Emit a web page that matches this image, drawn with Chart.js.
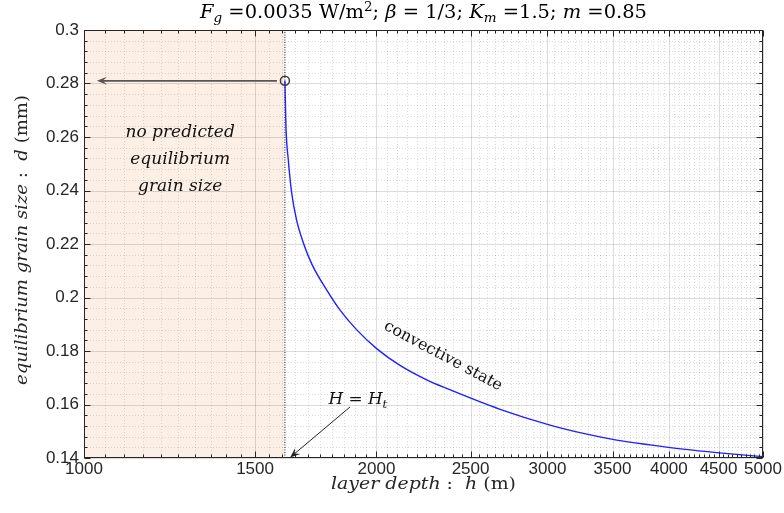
<!DOCTYPE html>
<html><head><meta charset="utf-8">
<script src="https://cdn.jsdelivr.net/npm/chart.js@4.4.1/dist/chart.umd.min.js"></script>
<style>html,body{margin:0;padding:0;background:#fff;}#wrap{width:784px;height:513px;position:relative}</style>
</head><body><div id="wrap"><canvas id="c" width="784" height="513"></canvas></div>
<script>
// ---- data ----
const depthH = [1610,1614,1623,1636,1655,1682,1717,1778,1835,1909,2001,2115,2253,2362,2681,3018,3266,3535,3825,4139,4480,5000];
const grainD = [0.281,0.2637,0.2514,0.2391,0.229,0.2204,0.2123,0.2028,0.1953,0.1879,0.1809,0.1746,0.1692,0.166,0.1582,0.1523,0.1492,0.1467,0.1449,0.1433,0.142,0.1405];
const xTickLabels = [1000,1500,2000,2500,3000,3500,4000,4500,5000];
const yTickLabels = [0.14,0.16,0.18,0.2,0.22,0.24,0.26,0.28,0.3];
const transitionH = 1610;
const transitionD = 0.281;
const leftArrow = {from:{x:1580,y:0.281}, to:{x:1031,y:0.281}};
const htArrow = {from:{x:1879,y:0.1591}, to:{x:1630,y:0.1402}};
const noPredLines = ["no predicted","equilibrium","grain size"];
const noPredAnchor = {x:1256, y:0.2622};
const convAnchor = {x:2342, y:0.1781};
const htAnchor = {x:1914, y:0.1602};

const xMinor = []; for (let v=1000; v<=5000; v+=50) if (v%500) xMinor.push(v);
const yMinor = []; for (let k=0; k<=40; k++){ const v=+(0.14+k*0.004).toFixed(3); if (k%5) yMinor.push(v); }

const SERIF = '"DejaVu Serif", "Liberation Serif", serif';
function measure(ctx, parts){ let w=0; parts.forEach(p=>{ctx.font=p.f; w+=ctx.measureText(p.t).width;}); return w; }
function runsFit(ctx, parts, cx, y, sx){
  const w=measure(ctx,parts);
  ctx.save(); ctx.translate(cx,y); ctx.scale(sx,1);
  let px=-w/2;
  parts.forEach(p=>{ctx.font=p.f; ctx.fillText(p.t, px, (p.dy||0)); px+=ctx.measureText(p.t).width;});
  ctx.restore();
}
function arrow(ctx, x1,y1,x2,y2, color, lw, hl){
  const a=Math.atan2(y2-y1,x2-x1);
  ctx.save(); ctx.strokeStyle=color; ctx.fillStyle=color; ctx.lineWidth=lw; ctx.setLineDash([]);
  ctx.beginPath(); ctx.moveTo(x1,y1); ctx.lineTo(x2-Math.cos(a)*hl*0.6,y2-Math.sin(a)*hl*0.6); ctx.stroke();
  ctx.translate(x2,y2); ctx.rotate(a);
  ctx.beginPath(); ctx.moveTo(0,0); ctx.lineTo(-hl,-hl*0.4); ctx.lineTo(-hl*0.6,0); ctx.lineTo(-hl,hl*0.4); ctx.closePath(); ctx.fill();
  ctx.restore();
}

const deco = {
  id:'deco',
  beforeDatasetsDraw(chart){
    const {ctx, chartArea:a, scales:{x,y}} = chart;
    ctx.save();
    ctx.fillStyle='rgb(252,240,230)';
    const xs=x.getPixelForValue(1000), xe=x.getPixelForValue(transitionH);
    ctx.fillRect(xs,a.top,xe-xs,a.bottom-a.top);
    ctx.lineWidth=1;
    ctx.strokeStyle='rgba(38,38,38,0.16)'; ctx.setLineDash([1,2]);
    xMinor.forEach(v=>{const p=Math.round(x.getPixelForValue(v))+0.5; ctx.beginPath(); ctx.moveTo(p,a.top); ctx.lineTo(p,a.bottom); ctx.stroke();});
    yMinor.forEach(v=>{const p=Math.round(y.getPixelForValue(v))+0.5; ctx.beginPath(); ctx.moveTo(a.left,p); ctx.lineTo(a.right,p); ctx.stroke();});
    ctx.setLineDash([]); ctx.strokeStyle='rgba(38,38,38,0.16)';
    xTickLabels.forEach(v=>{const p=Math.round(x.getPixelForValue(v))+0.5; ctx.beginPath(); ctx.moveTo(p,a.top); ctx.lineTo(p,a.bottom); ctx.stroke();});
    yTickLabels.forEach(v=>{const p=Math.round(y.getPixelForValue(v))+0.5; ctx.beginPath(); ctx.moveTo(a.left,p); ctx.lineTo(a.right,p); ctx.stroke();});
    ctx.restore();
  },
  afterDatasetsDraw(chart){
    const {ctx, chartArea:a, scales:{x,y}} = chart;
    ctx.save();
    ctx.strokeStyle='#262626'; ctx.lineWidth=1; ctx.setLineDash([]);
    const L=Math.round(a.left)+0.5, R=Math.round(a.right)-0.5, T=Math.round(a.top)+0.5, B=Math.round(a.bottom)-0.5;
    ctx.strokeRect(L,T,R-L,B-T);
    ctx.beginPath();
    const tx=(v,len)=>{const p=Math.round(x.getPixelForValue(v))+0.5; ctx.moveTo(p,B); ctx.lineTo(p,B-len); ctx.moveTo(p,T); ctx.lineTo(p,T+len);};
    const ty=(v,len)=>{const p=Math.round(y.getPixelForValue(v))+0.5; ctx.moveTo(L,p); ctx.lineTo(L+len,p); ctx.moveTo(R,p); ctx.lineTo(R-len,p);};
    xMinor.forEach(v=>tx(v,3)); xTickLabels.forEach(v=>tx(v,6));
    yMinor.forEach(v=>ty(v,3)); yTickLabels.forEach(v=>ty(v,6));
    ctx.stroke();
    arrow(ctx, x.getPixelForValue(leftArrow.from.x), y.getPixelForValue(leftArrow.from.y), x.getPixelForValue(leftArrow.to.x), y.getPixelForValue(leftArrow.to.y), 'rgb(90,85,80)', 1.6, 10);
    arrow(ctx, x.getPixelForValue(htArrow.from.x), y.getPixelForValue(htArrow.from.y), x.getPixelForValue(htArrow.to.x), y.getPixelForValue(htArrow.to.y), '#222', 1, 10);
    ctx.fillStyle='#111'; ctx.textBaseline='alphabetic'; ctx.textAlign='left';
    const nx=x.getPixelForValue(noPredAnchor.x), ny=y.getPixelForValue(noPredAnchor.y);
    const NI='italic 17px '+SERIF;
    noPredLines.forEach((t,i)=>runsFit(ctx,[{t,f:NI}], nx, ny+6+i*27, 1.0));
    runsFit(ctx,[{t:'H',f:'italic 16px '+SERIF},{t:' = ',f:'16px '+SERIF},{t:'H',f:'italic 16px '+SERIF},{t:'t',f:'italic 11px '+SERIF,dy:4}], x.getPixelForValue(htAnchor.x), y.getPixelForValue(htAnchor.y), 1.05);
    ctx.save();
    ctx.translate(x.getPixelForValue(convAnchor.x), y.getPixelForValue(convAnchor.y));
    ctx.rotate(28*Math.PI/180);
    ctx.textAlign='center'; ctx.textBaseline='middle'; ctx.font='16px '+SERIF;
    ctx.fillText('convective state',0,0);
    ctx.restore();
    ctx.textAlign='left'; ctx.textBaseline='alphabetic';
    // title
    ctx.fillStyle='#000';
    const cx=(a.left+a.right)/2;
    const N='18px '+SERIF, I='italic 18px '+SERIF, S='italic 12.5px '+SERIF, SN='12.5px '+SERIF;
    const titleParts=[{t:'F',f:I},{t:'g',f:S,dy:4},{t:' =0.0035 W/m',f:N},{t:'2',f:SN,dy:-7},{t:'; ',f:N},{t:'β',f:I},{t:' = 1/3; ',f:N},{t:'K',f:I},{t:'m',f:S,dy:4},{t:' =1.5; ',f:N},{t:'m',f:I},{t:' =0.85',f:N}];
    runsFit(ctx,titleParts,cx,18,447/measure(ctx,titleParts));
    // axis titles
    ctx.fillStyle='#262626';
    const N2='17px '+SERIF, I2='italic 17px '+SERIF;
    const xParts=[{t:'layer depth',f:I2},{t:' :  ',f:N2},{t:'h',f:I2},{t:' (m)',f:N2}];
    runsFit(ctx,xParts,cx,489,185/measure(ctx,xParts));
    const yParts=[{t:'equilibrium grain size',f:I2},{t:' :  ',f:N2},{t:'d',f:I2},{t:' (mm)',f:N2}];
    ctx.save(); ctx.translate(27,(a.top+a.bottom)/2-4); ctx.rotate(-Math.PI/2);
    runsFit(ctx,yParts,0,0,290/measure(ctx,yParts));
    ctx.restore();
    ctx.restore();
  }
};

new Chart(document.getElementById('c'), {
  type:'line',
  data:{datasets:[
    {data:[{x:transitionH,y:transitionD}], showLine:false, pointRadius:4.5, pointBorderWidth:1.5, pointBorderColor:'#3a3a3a', pointBackgroundColor:'rgba(0,0,0,0)'},
    {data:depthH.map((h,i)=>({x:h,y:grainD[i]})), borderColor:'#1f1fff', borderWidth:1.4, pointRadius:0, cubicInterpolationMode:'monotone', fill:false},
    {data:[{x:transitionH,y:0.14},{x:transitionH,y:0.3}], borderColor:'#222', borderWidth:1, borderDash:[1,1.5], pointRadius:0}
  ]},
  options:{
    responsive:false, animation:false, devicePixelRatio:1,
    layout:{padding:{left:0,right:21,top:30,bottom:0}},
    plugins:{legend:{display:false}, tooltip:{enabled:false}, title:{display:false}},
    scales:{
      x:{type:'logarithmic', min:1000, max:5000,
         afterBuildTicks:s=>{s.ticks=xTickLabels.map(v=>({value:v}));},
         afterFit:s=>{s.height=55;},
         grid:{display:false, drawTicks:false}, border:{display:false},
         ticks:{font:{family:'"Liberation Sans", Arial, sans-serif', size:17}, color:'#262626', padding:1, maxRotation:0, autoSkip:false, callback:v=>String(v)}},
      y:{type:'linear', min:0.14, max:0.3,
         afterBuildTicks:s=>{s.ticks=yTickLabels.map(v=>({value:v}));},
         afterFit:s=>{s.width=84;},
         grid:{display:false, drawTicks:false}, border:{display:false},
         ticks:{font:{family:'"Liberation Sans", Arial, sans-serif', size:17}, color:'#262626', padding:5, autoSkip:false, callback:v=>String(+(+v).toFixed(2))}}
    }
  },
  plugins:[deco]
});
</script></body></html>
